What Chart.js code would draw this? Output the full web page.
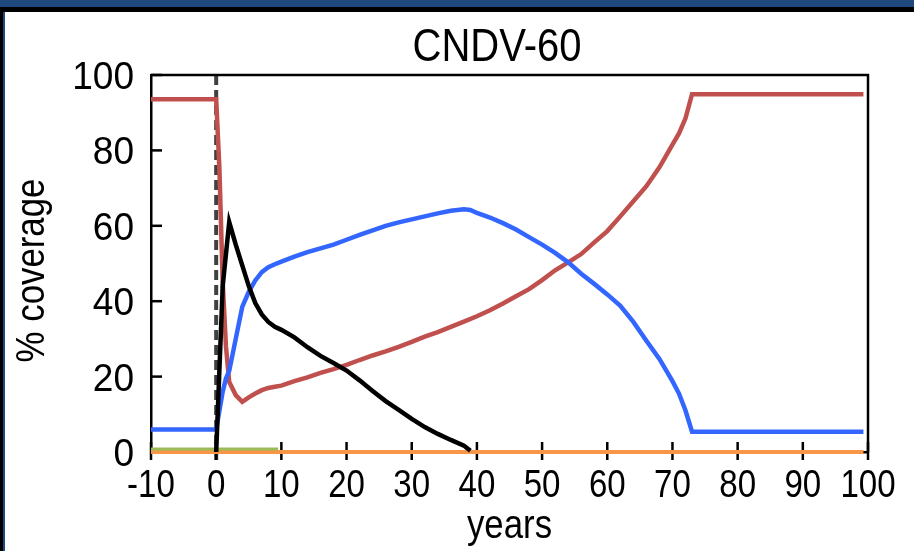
<!DOCTYPE html>
<html>
<head>
<meta charset="utf-8">
<script src="https://cdn.jsdelivr.net/npm/chart.js@4"></script>
<style>
  html, body { margin: 0; padding: 0; background: #ffffff; }
  body { width: 914px; height: 551px; position: relative; overflow: hidden; }
  #chart { position: absolute; left: 0; top: 0; }
  .band { position: absolute; }
</style>
</head>
<body>
<canvas id="chart" width="914" height="551"></canvas>
<div class="band" style="left:0;top:0;width:914px;height:7px;background:#1f497d"></div>
<div class="band" style="left:0;top:7px;width:914px;height:5px;background:#000"></div>
<div class="band" style="left:0;top:12px;width:3px;height:539px;background:#000"></div>
<div class="band" style="left:3px;top:12px;width:2px;height:539px;background:#1f497d"></div>
<script>
// Coverage (%) by plant type over time, years relative to the climate change onset
const chartTitle = 'CNDV-60';
const xTitle = 'years';
const yTitle = '% coverage';
const xTicks = [-10, 0, 10, 20, 30, 40, 50, 60, 70, 80, 90, 100];
const yTicks = [0, 20, 40, 60, 80, 100];

const redYears = [-10, 0, 0.5, 1, 1.5, 2, 3, 4, 5, 6, 7, 8, 9, 10, 12, 14, 16, 18, 20, 22, 24, 26, 28, 30, 32, 34, 36, 38, 40, 42, 44, 46, 48, 50, 52, 54, 56, 58, 60, 62, 64, 66, 68, 70, 71, 72, 73, 99.3];
const redValues = [93.6, 93.6, 75, 45, 28, 18.6, 15.1, 13.3, 14.5, 15.5, 16.4, 17, 17.3, 17.6, 18.8, 19.8, 21, 22, 23.1, 24.4, 25.6, 26.7, 27.9, 29.2, 30.6, 31.8, 33.2, 34.6, 36, 37.6, 39.4, 41.3, 43.2, 45.6, 48.2, 50.3, 52.5, 55.6, 58.6, 62.5, 66.5, 70.5, 75.5, 81.5, 84.5, 88.5, 94.9, 94.9];

const blueYears = [-10, 0, 0.5, 1, 1.5, 2, 3, 4, 5, 6, 7, 8, 9, 10, 12, 14, 16, 18, 20, 22, 24, 26, 28, 30, 32, 34, 36, 38, 39, 40, 42, 44, 46, 48, 50, 52, 54, 56, 58, 60, 62, 64, 66, 68, 70, 71, 72, 73, 99.3];
const blueValues = [6, 6, 11, 16, 19.5, 21.5, 30, 38.5, 42.5, 45.5, 47.7, 49, 49.8, 50.5, 51.8, 53, 54, 55, 56.3, 57.6, 58.8, 60, 60.9, 61.7, 62.5, 63.3, 64, 64.4, 64.2, 63.4, 62.2, 60.7, 59, 57, 55, 52.8, 50.3, 47.3, 44.6, 41.8, 38.8, 34.5, 29.5, 24.7, 18.8, 15.5, 11, 5.4, 5.4];

const blackYears = [0, 1, 2, 3, 4, 5, 6, 7, 8, 9, 10, 12, 14, 16, 18, 20, 22, 24, 26, 28, 30, 32, 34, 36, 38, 39];
const blackValues = [0, 44, 61, 55, 49.5, 44, 39.5, 36.5, 34.5, 33.2, 32.4, 30.4, 27.8, 25.5, 23.6, 21.6, 19, 16.2, 13.5, 11.2, 8.8, 6.6, 4.8, 3.2, 1.7, 0.3];

const greenYears = [-10, 9.5];
const greenValues = [0.8, 0.8];

const orangeYears = [-10, 99.3];
const orangeValues = [0, 0];

const pts = (xs, ys) => xs.map((x, i) => ({ x, y: ys[i] }));

const FONT = '"Liberation Sans", Arial, sans-serif';

function narrowText(ctx, text, x, y, size, squeeze, align, baseline, angle) {
  ctx.save();
  ctx.translate(x, y);
  if (angle) ctx.rotate(angle);
  ctx.scale(squeeze, 1);
  ctx.font = size + 'px ' + FONT;
  ctx.textAlign = align;
  ctx.textBaseline = baseline;
  ctx.fillStyle = '#000';
  ctx.fillText(text, 0, 0);
  ctx.restore();
}

// Title, labels, box edges, tick marks and the dashed onset marker
const decorations = {
  id: 'decorations',
  beforeDatasetsDraw(chart) {
    const { ctx, chartArea: a, scales: { x, y } } = chart;
    ctx.save();
    const x0 = x.getPixelForValue(0);
    ctx.strokeStyle = '#404040';
    ctx.lineWidth = 4;
    ctx.setLineDash([10, 5]);
    ctx.beginPath();
    ctx.moveTo(x0, a.top);
    ctx.lineTo(x0, a.bottom + 8);
    ctx.stroke();
    ctx.setLineDash([]);
    ctx.strokeStyle = '#000';
    ctx.lineWidth = 2.5;
    ctx.beginPath();
    ctx.moveTo(a.left, a.top);
    ctx.lineTo(a.right, a.top);
    ctx.lineTo(a.right, a.bottom);
    ctx.stroke();
    y.ticks.forEach(t => {
      const py = y.getPixelForValue(t.value);
      ctx.beginPath();
      ctx.moveTo(a.left, py);
      ctx.lineTo(a.left + 11, py);
      ctx.stroke();
    });
    x.ticks.forEach(t => {
      const px = x.getPixelForValue(t.value);
      ctx.beginPath();
      ctx.moveTo(px, a.bottom - 10);
      ctx.lineTo(px, a.bottom + 8);
      ctx.stroke();
    });
    ctx.restore();
  },
  afterDraw(chart) {
    const { ctx, chartArea: a, scales: { x, y } } = chart;
    x.ticks.forEach(t => {
      narrowText(ctx, String(t.value), x.getPixelForValue(t.value), a.bottom + 45, 38, 0.87, 'center', 'alphabetic');
    });
    y.ticks.forEach(t => {
      narrowText(ctx, String(t.value), a.left - 17, y.getPixelForValue(t.value) + 14, 39, 0.95, 'right', 'alphabetic');
    });
    narrowText(ctx, chartTitle, 497, 61, 46, 0.87, 'center', 'alphabetic');
    narrowText(ctx, xTitle, (a.left + a.right) / 2, 538, 40, 0.87, 'center', 'alphabetic');
    narrowText(ctx, yTitle, 33, (a.top + a.bottom) / 2 + 7, 40, 0.87, 'center', 'middle', -Math.PI / 2);
  }
};

const line = (data, color, width) => ({
  data, borderColor: color, backgroundColor: color, borderWidth: width,
  pointRadius: 0, tension: 0, fill: false, clip: false
});

new Chart(document.getElementById('chart'), {
  type: 'line',
  data: {
    datasets: [
      line(pts(blackYears, blackValues), '#000000', 4.5),
      line(pts(greenYears, greenValues), '#9bbb59', 3),
      line(pts(blueYears, blueValues), '#3366ff', 4.5),
      line(pts(redYears, redValues), '#c0504d', 4.5),
      line(pts(orangeYears, orangeValues), '#f79646', 4)
    ]
  },
  plugins: [decorations],
  options: {
    responsive: false,
    animation: false,
    devicePixelRatio: 1,
    layout: { padding: { left: 0, right: 46, top: 75, bottom: 0 } },
    plugins: { legend: { display: false }, tooltip: { enabled: false }, title: { display: false } },
    scales: {
      x: {
        type: 'linear', min: -10, max: 100,
        afterBuildTicks: s => { s.ticks = xTicks.map(v => ({ value: v })); },
        afterFit: s => { s.height = 99; },
        grid: { display: false },
        border: { display: true, color: '#000', width: 2.5 },
        ticks: { display: false }
      },
      y: {
        min: 0, max: 100,
        afterBuildTicks: s => { s.ticks = yTicks.map(v => ({ value: v })); },
        afterFit: s => { s.width = 151; },
        grid: { display: false },
        border: { display: true, color: '#000', width: 2.5 },
        ticks: { display: false }
      }
    }
  }
});
</script>
</body>
</html>
